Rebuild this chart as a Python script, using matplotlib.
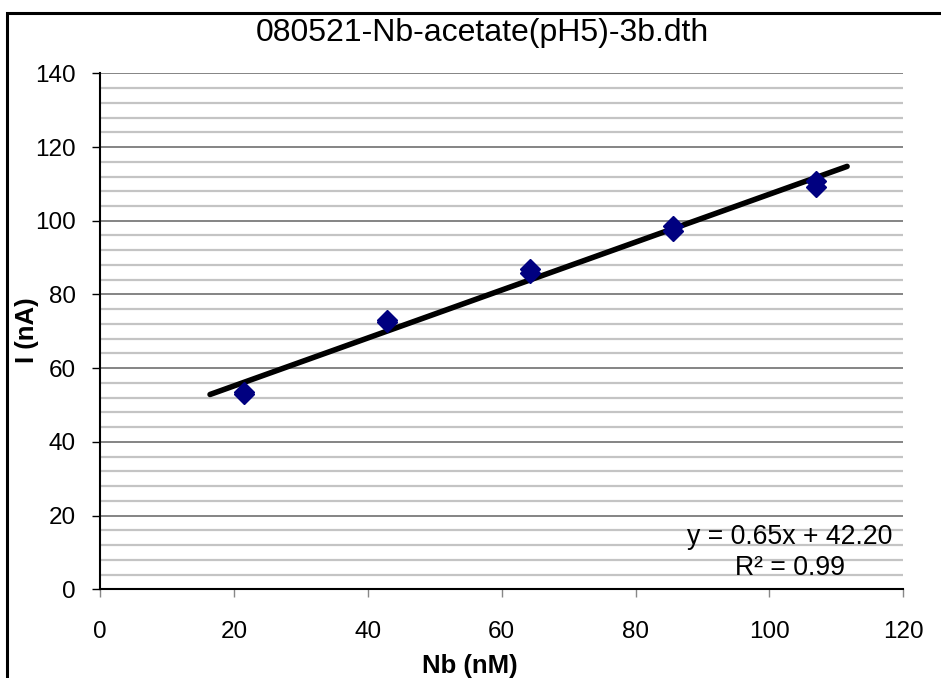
import numpy as np
import matplotlib.pyplot as plt
from matplotlib.patches import Rectangle
from matplotlib.ticker import MultipleLocator

plt.rcParams['font.family'] = ['Liberation Sans', 'DejaVu Sans']

# duplicate readings at each Nb concentration
nb_nM = [21.4, 21.4, 42.8, 42.8, 64.2, 64.2, 85.6, 85.6, 107.0, 107.0]
i_nA = [53.0, 53.5, 72.5, 73.0, 85.8, 86.8, 97.3, 98.6, 109.2, 110.8]

# linear trendline as reported
slope = 0.65
intercept = 42.20
r2 = 0.99
trend_x = [16.4, 111.6]

fig = plt.figure(figsize=(9.41, 6.78), dpi=100)
W, H = 941, 678
ax = fig.add_axes([100.3 / W, 1 - 589.3 / H, (903.3 - 100.3) / W, (589.3 - 73.3) / H])

# chart border
fig.patches.append(Rectangle((7 / W, -0.05), 1.05, 1.05 - 13 / H, transform=fig.transFigure,
                             fill=False, edgecolor='black', linewidth=2.2))

ax.set_xlim(0, 120)
ax.set_ylim(0, 140)
ax.xaxis.set_major_locator(MultipleLocator(20))
ax.yaxis.set_major_locator(MultipleLocator(20))
ax.yaxis.set_minor_locator(MultipleLocator(4))

ax.grid(axis='y', which='minor', color='#c4c4c4', linewidth=1.6, zorder=0)
ax.grid(axis='y', which='major', color='#707070', linewidth=1.2, zorder=0)
ax.tick_params(axis='y', which='minor', length=0)
ax.tick_params(axis='both', which='major', direction='out', length=5.8, width=1,
               labelsize=17.5, colors='#000000')
ax.tick_params(axis='x', pad=17)
ax.tick_params(axis='y', pad=12)
ax.tick_params(axis='x', color='#888888')

for s in ['top', 'right']:
    ax.spines[s].set_visible(False)
ax.spines['left'].set_linewidth(1.5)
ax.spines['bottom'].set_linewidth(1.5)

tx = np.array(trend_x)
ax.plot(tx, slope * tx + intercept, color='black', linewidth=4,
        solid_capstyle='round', zorder=3)
ax.plot(nb_nM, i_nA, linestyle='none', marker='D', markersize=10,
        color='#000080', zorder=4)

ax.text(103, 14.2, f'y = {slope:.2f}x + {intercept:.2f}', fontsize=19.2,
        ha='center', va='center')
ax.text(103, 5.8, f'R² = {r2:.2f}', fontsize=19.2, ha='center', va='center')

fig.text(482 / W, 1 - 33 / H, '080521-Nb-acetate(pH5)-3b.dth', fontsize=23,
         ha='center', va='center')
fig.text(470 / W, 1 - 666 / H, 'Nb (nM)', fontsize=18.5, fontweight='bold',
         ha='center', va='center')
fig.text(27 / W, 1 - 330 / H, 'I (nA)', fontsize=18.5, fontweight='bold',
         ha='center', va='center', rotation=90)

fig.savefig('out.png', dpi=100)
